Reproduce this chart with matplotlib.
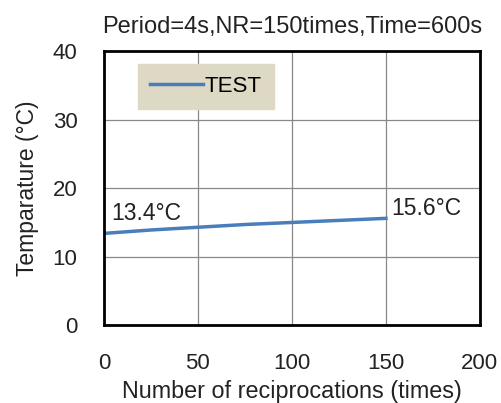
import numpy as np
import matplotlib.pyplot as plt

plt.rcParams['font.family'] = ['Liberation Sans', 'DejaVu Sans']

# data
cycles = [0, 25, 50, 75, 100, 125, 150]
temp = [13.4, 13.9, 14.3, 14.7, 15.0, 15.3, 15.6]
x_ticks = [0, 50, 100, 150, 200]
y_ticks = [0, 10, 20, 30, 40]

fig = plt.figure(figsize=(5.02, 4.03), dpi=100)
ax = fig.add_axes([0.207, 0.193, 0.749, 0.680])

ax.plot(cycles, temp, color='#4a7ebb', lw=2.5, label='TEST')

ax.set_xlim(0, 200)
ax.set_ylim(0, 40)
ax.set_xticks(x_ticks)
ax.set_yticks(y_ticks)
ax.tick_params(length=0, labelsize=16, colors='#222222')
ax.tick_params(axis='x', pad=20)
ax.tick_params(axis='y', pad=19)
ax.grid(True, color='#888888', lw=0.9)
for s in ax.spines.values():
    s.set_linewidth(2)
    s.set_color('black')

ax.set_title('Period=4s,NR=150times,Time=600s', fontsize=17, pad=13, color='#222222')
ax.set_xlabel('Number of reciprocations (times)', fontsize=16.8, labelpad=4, color='#222222')
ax.set_ylabel('Temparature (\u00b0C)', fontsize=16.5, labelpad=10, color='#222222')

# end point labels
ax.text(cycles[0] + 4, temp[0] + 2.0, '%.1f\u00b0C' % temp[0], fontsize=16.5, color='#222222')
ax.text(cycles[-1] + 3, temp[-1] + 0.5, '%.1f\u00b0C' % temp[-1], fontsize=16.5, color='#222222')

leg = ax.legend(loc='upper left', bbox_to_anchor=(0.09, 0.955), frameon=True, fancybox=False,
                prop={'family': ['Liberation Sans Narrow', 'Liberation Sans'], 'size': 16},
                handlelength=2.4, handletextpad=0.05, borderpad=0.55, borderaxespad=0)
leg.get_frame().set_facecolor('#ddd9c4')
leg.get_frame().set_edgecolor('#ddd9c4')
leg.get_frame().set_alpha(1)

fig.savefig('out.png', dpi=100)
plt.close()
